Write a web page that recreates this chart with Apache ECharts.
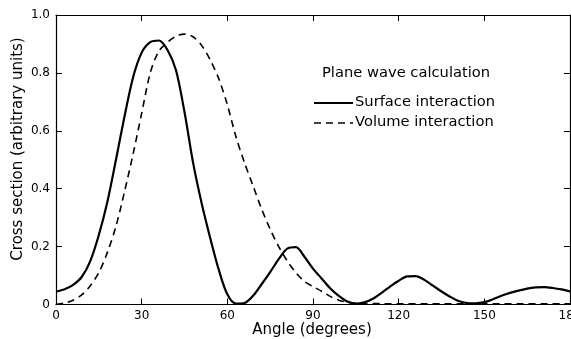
<!DOCTYPE html>
<html>
<head>
<meta charset="utf-8">
<script src="https://cdn.jsdelivr.net/npm/echarts@6/dist/echarts.min.js"></script>
<style>
html,body{margin:0;padding:0;background:#fff;}
#chart{width:571px;height:339px;}
</style>
</head>
<body>
<div id="chart"></div>
<script>
var angles = [0,3,6,9,12,15,18,21,24,27,30,33,36,39,42,45,48,51,54,57,60,63,66,69,72,75,78,81,84,87,90,93,96,99,102,105,108,111,114,117,120,123,126,129,132,135,138,141,144,147,150,153,156,159,162,165,168,171,174,177,180];
var surface = [0.045,0.053,0.068,0.095,0.150,0.240,0.355,0.500,0.650,0.785,0.870,0.906,0.912,0.880,0.810,0.665,0.490,0.350,0.230,0.120,0.035,0.003,0.005,0.030,0.070,0.112,0.157,0.193,0.198,0.165,0.124,0.090,0.056,0.030,0.010,0.003,0.008,0.020,0.040,0.062,0.082,0.097,0.098,0.085,0.065,0.045,0.027,0.012,0.005,0.004,0.008,0.018,0.030,0.040,0.048,0.055,0.059,0.060,0.057,0.052,0.045];
var volume = [0.000,0.005,0.015,0.033,0.065,0.110,0.180,0.270,0.390,0.520,0.660,0.800,0.875,0.905,0.927,0.934,0.925,0.895,0.845,0.780,0.690,0.580,0.490,0.410,0.330,0.260,0.200,0.150,0.110,0.080,0.062,0.046,0.028,0.015,0.008,0.004,0.003,0.003,0.003,0.002,0.002,0.002,0.002,0.002,0.002,0.002,0.002,0.002,0.002,0.002,0.002,0.002,0.002,0.002,0.002,0.002,0.002,0.002,0.002,0.002,0.002];
var xTicks = ['0','30','60','90','120','150','180'];
var yTicks = ['0','0.2','0.4','0.6','0.8','1.0'];
var xTitle = 'Angle (degrees)';
var yTitle = 'Cross section (arbitrary units)';
var legendTitle = 'Plane wave calculation';
var seriesNames = ['Surface interaction','Volume interaction'];

var FONT = 'DejaVu Sans';
function pairs(xs, ys){ return xs.map(function(x,i){ return [x, ys[i]]; }); }

var chart = echarts.init(document.getElementById('chart'), null, {renderer:'canvas'});
var axisLineStyle = {color:'#000', width:1.2};
chart.setOption({
  backgroundColor:'#fff',
  animation:false,
  grid:{left:56, right:1, top:15, bottom:34.5, containLabel:false, outerBoundsMode:'none'},
  xAxis:[{
    type:'value', min:0, max:180, interval:30, position:'bottom',
    axisLine:{show:true, onZero:false, lineStyle:axisLineStyle},
    axisTick:{show:true, inside:true, length:6, lineStyle:{color:'#000'}},
    axisLabel:{fontFamily:FONT, fontSize:12, color:'#000', margin:5,
      formatter:function(v){ return xTicks[Math.round(v/30)]; }},
    splitLine:{show:false}
  },{
    type:'value', min:0, max:180, interval:30, position:'top',
    axisLine:{show:true, onZero:false, lineStyle:axisLineStyle},
    axisTick:{show:true, inside:true, length:6, lineStyle:{color:'#000'}},
    axisLabel:{show:false}, splitLine:{show:false}
  }],
  yAxis:[{
    type:'value', min:0, max:1, interval:0.2, position:'left',
    axisLine:{show:true, onZero:false, lineStyle:axisLineStyle},
    axisTick:{show:true, inside:true, length:6, lineStyle:{color:'#000'}},
    axisLabel:{fontFamily:FONT, fontSize:12, color:'#000', margin:6,
      formatter:function(v){ return yTicks[Math.round(v/0.2)]; }},
    splitLine:{show:false}
  },{
    type:'value', min:0, max:1, interval:0.2, position:'right',
    axisLine:{show:true, onZero:false, lineStyle:axisLineStyle},
    axisTick:{show:true, inside:true, length:6, lineStyle:{color:'#000'}},
    axisLabel:{show:false}, splitLine:{show:false}
  }],
  series:[{
    name:seriesNames[0], type:'line', showSymbol:false, smooth:0.3,
    data:pairs(angles, surface),
    lineStyle:{color:'#000', width:2.2}
  },{
    name:seriesNames[1], type:'line', showSymbol:false, smooth:0.3,
    data:pairs(angles, volume),
    lineStyle:{color:'#000', width:1.6, type:[7,5]}
  }],
  graphic:[
    {type:'text', x:312, y:330,
      style:{text:xTitle, fontFamily:FONT, fontSize:15, fill:'#000', align:'center', verticalAlign:'middle'}},
    {type:'text', x:18, y:149, rotation:Math.PI/2,
      style:{text:yTitle, fontFamily:FONT, fontSize:15, fill:'#000', align:'center', verticalAlign:'middle'}},
    {type:'text', left:322, top:66, style:{text:legendTitle, fontFamily:FONT, fontSize:14.7, fill:'#000'}},
    {type:'line', shape:{x1:314, y1:103, x2:353, y2:103}, style:{stroke:'#000', lineWidth:2}},
    {type:'text', left:355, top:95, style:{text:seriesNames[0], fontFamily:FONT, fontSize:14.7, fill:'#000'}},
    {type:'line', shape:{x1:314, y1:123, x2:353, y2:123}, style:{stroke:'#000', lineWidth:1.5, lineDash:[7,5]}},
    {type:'text', left:355, top:115, style:{text:seriesNames[1], fontFamily:FONT, fontSize:14.7, fill:'#000'}}
  ]
});
</script>
</body>
</html>
